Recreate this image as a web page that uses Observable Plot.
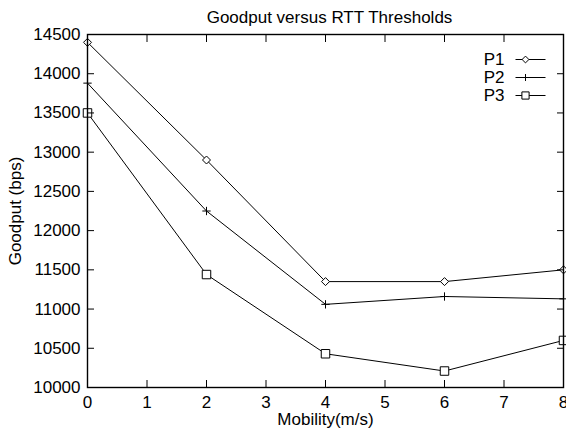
<!DOCTYPE html>
<html><head><meta charset="utf-8">
<script src="https://cdn.jsdelivr.net/npm/d3@7"></script>
<script src="https://cdn.jsdelivr.net/npm/@observablehq/plot@0.6"></script>
<style>body{margin:0;background:#fff}</style>
</head><body><div id="chart"></div>
<script>
const mobility = [0, 2, 4, 6, 8];
const p1 = [14400, 12900, 11350, 11350, 11500];
const p2 = [13880, 12250, 11060, 11160, 11130];
const p3 = [13500, 11440, 10430, 10210, 10600];
const seriesNames = ["P1", "P2", "P3"];
const seriesSymbols = ["diamond2", "plus", "square2"];
const seriesRadius = [3.6, 2.8, 5.4];
const xTicks = [0, 1, 2, 3, 4, 5, 6, 7, 8];
const yTicks = [10000, 10500, 11000, 11500, 12000, 12500, 13000, 13500, 14000, 14500];
const title = "Goodput versus RTT Thresholds";
const xLabel = "Mobility(m/s)";
const yLabel = "Goodput (bps)";

const values = [p1, p2, p3];
const data = values.flatMap((vals, i) => vals.map((v, j) => ({series: seriesNames[i], x: mobility[j], y: v})));

const legendLine = {draw(ctx) { ctx.moveTo(-15, 0); ctx.lineTo(15, 0); }};

const marks = [
  Plot.line(data, {x: "x", y: "y", z: "series", stroke: "#000", strokeWidth: 1}),
  ...seriesNames.map((s, i) => Plot.dot(data.filter(d => d.series === s), {
    x: "x", y: "y", symbol: () => seriesSymbols[i], r: seriesRadius[i], stroke: "#000", fill: i === 1 ? "none" : "#fff", strokeWidth: 1
  })),
  // inward ticks on all four sides
  Plot.axisX({ticks: xTicks, anchor: "bottom", tickSize: -7, tickFormat: () => "", label: null}),
  Plot.axisX({ticks: xTicks, anchor: "top", tickSize: -7, tickFormat: () => "", label: null}),
  Plot.axisY({ticks: yTicks, anchor: "left", tickSize: -7, tickFormat: () => "", label: null}),
  Plot.axisY({ticks: yTicks, anchor: "right", tickSize: -7, tickFormat: () => "", label: null}),
  // tick labels
  Plot.axisX({ticks: xTicks, anchor: "bottom", tickSize: 0, tickPadding: 8, tickFormat: d => String(d), label: null}),
  Plot.axisY({ticks: yTicks, anchor: "left", tickSize: 0, tickPadding: 7, tickFormat: d => String(d), label: null}),
  Plot.frame({stroke: "#000", strokeWidth: 1.4}),
  // titles
  Plot.text([title], {frameAnchor: "top", text: d => d, dy: -17, dx: 4, lineAnchor: "middle", fontSize: 17}),
  Plot.text([xLabel], {frameAnchor: "bottom", text: d => d, dy: 32, lineAnchor: "middle", fontSize: 17}),
  Plot.text([yLabel], {frameAnchor: "left", text: d => d, dx: -72, rotate: -90, textAnchor: "middle", lineAnchor: "middle", fontSize: 17}),
  // legend
  ...seriesNames.map((s, i) => Plot.text([s], {frameAnchor: "top-right", text: d => d, dx: -59, dy: 25 + 18 * i, textAnchor: "end", lineAnchor: "middle", fontSize: 17})),
  ...seriesNames.map((s, i) => Plot.dot([s], {frameAnchor: "top-right", dx: -33, dy: 25 + 18 * i, symbol: legendLine, r: 4, stroke: "#000", strokeWidth: 1})),
  ...seriesNames.map((s, i) => Plot.dot([s], {frameAnchor: "top-right", dx: -38, dy: 25 + 18 * i, symbol: seriesSymbols[i], r: seriesRadius[i] * 0.85, stroke: "#000", fill: i === 1 ? "none" : "#fff", strokeWidth: 1}))
];

const chart = Plot.plot({
  width: 566,
  height: 428,
  marginLeft: 87,
  marginRight: 3,
  marginTop: 34,
  marginBottom: 41,
  x: {domain: [0, 8], label: null},
  y: {domain: [10000, 14500], label: null},
  style: {fontFamily: "'Liberation Sans', Arial, Helvetica, sans-serif", fontSize: "17px", color: "#000", background: "#fff"},
  marks
});
document.getElementById("chart").appendChild(chart);
</script>
</body></html>
